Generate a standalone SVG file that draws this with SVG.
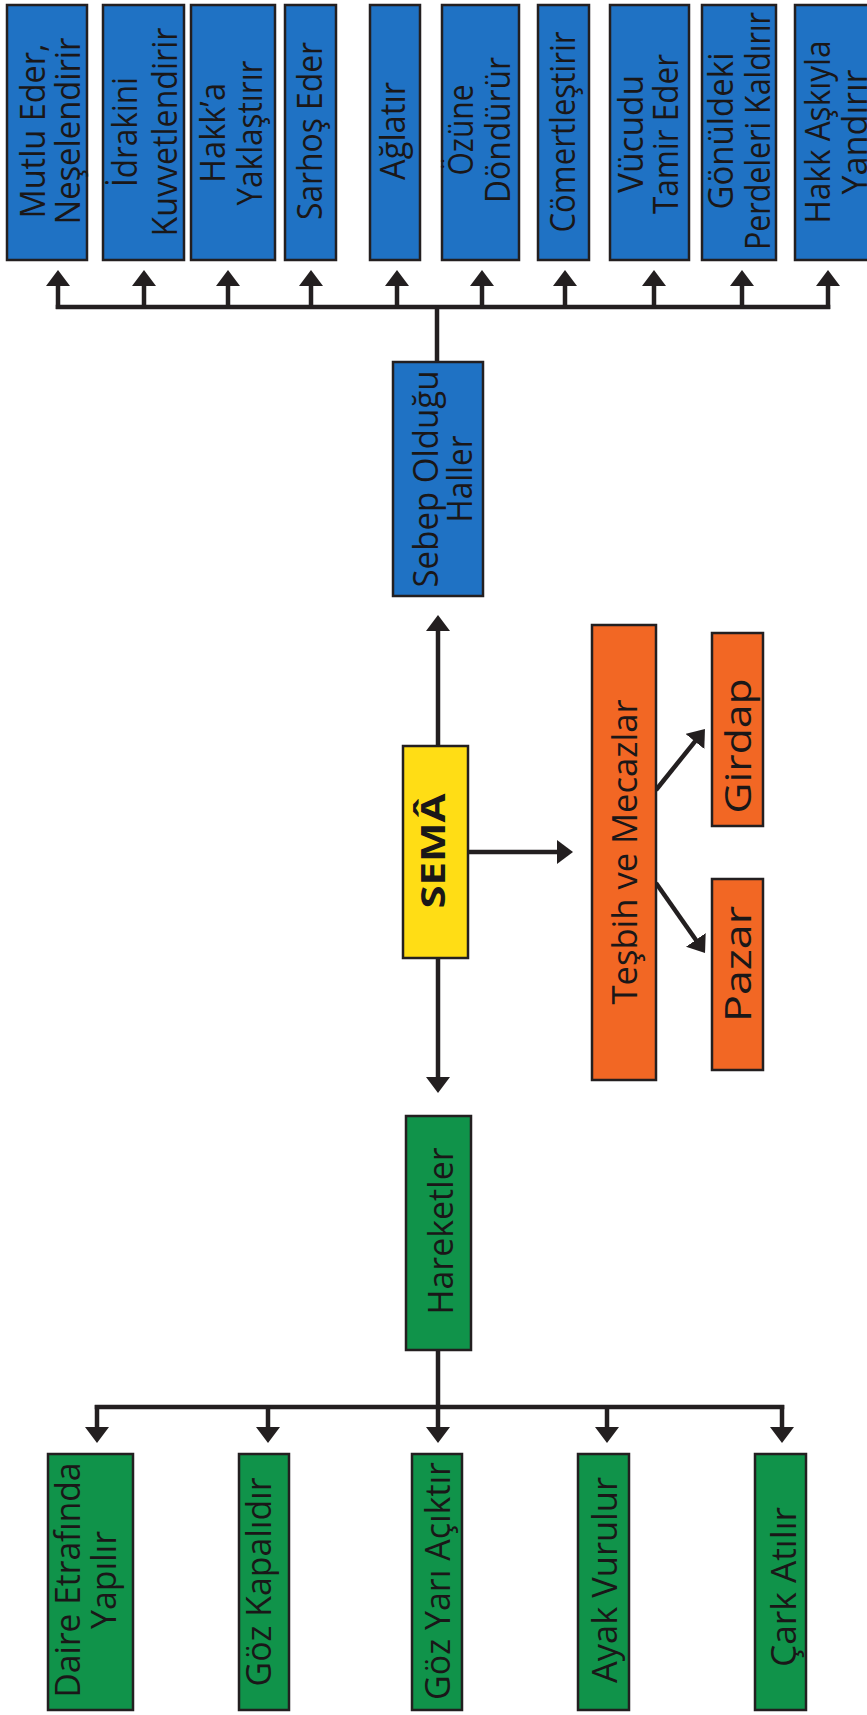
<svg xmlns="http://www.w3.org/2000/svg" width="867" height="1715" viewBox="0 0 867 1715">
  <style>
    .box { stroke: #231f20; stroke-width: 2.5; }
    .blue { fill: #1f72c4; }
    .green { fill: #10934a; }
    .orange { fill: #f26724; }
    .yellow { fill: #ffdd15; }
    .lbl { font-family: "Open Sans", "Noto Sans", sans-serif; font-size: 34px; fill: #1a1718; text-anchor: middle; }
    .big { font-size: 36px; }
    .bold { font-weight: bold; }
    .wire { fill: none; stroke: #231f20; stroke-width: 4.5; }
  </style>
  <defs>
    <marker id="arrow" markerUnits="userSpaceOnUse" viewBox="0 0 16 24" refX="6" refY="12" markerWidth="16" markerHeight="24" orient="auto">
      <path d="M0,0 L16,12 L0,24 Z" fill="#231f20"/>
    </marker>
  </defs>

  <rect width="867" height="1715" fill="#ffffff"/>

  <!-- connectors -->
  <g id="connectors" class="wire">
    <!-- upper fan: Sebep Olduğu Haller to its ten results -->
    <line x1="437" y1="362" x2="437" y2="307"/>
    <line x1="55.75" y1="307" x2="830.25" y2="307"/>
    <line x1="58" y1="309" x2="58" y2="280" marker-end="url(#arrow)"/>
    <line x1="144" y1="309" x2="144" y2="280" marker-end="url(#arrow)"/>
    <line x1="228" y1="309" x2="228" y2="280" marker-end="url(#arrow)"/>
    <line x1="311" y1="309" x2="311" y2="280" marker-end="url(#arrow)"/>
    <line x1="397" y1="309" x2="397" y2="280" marker-end="url(#arrow)"/>
    <line x1="482" y1="309" x2="482" y2="280" marker-end="url(#arrow)"/>
    <line x1="565" y1="309" x2="565" y2="280" marker-end="url(#arrow)"/>
    <line x1="654" y1="309" x2="654" y2="280" marker-end="url(#arrow)"/>
    <line x1="742" y1="309" x2="742" y2="280" marker-end="url(#arrow)"/>
    <line x1="828" y1="309" x2="828" y2="280" marker-end="url(#arrow)"/>

    <!-- SEMÂ outward -->
    <line x1="438" y1="746" x2="438" y2="625" marker-end="url(#arrow)"/>
    <line x1="438" y1="958" x2="438" y2="1083" marker-end="url(#arrow)"/>
    <line x1="468" y1="852" x2="563" y2="852" marker-end="url(#arrow)"/>

    <!-- Teşbih ve Mecazlar to its two images -->
    <line x1="656" y1="790" x2="698.7" y2="736.8" marker-end="url(#arrow)"/>
    <line x1="656" y1="883" x2="699.3" y2="944.8" marker-end="url(#arrow)"/>

    <!-- lower fan: Hareketler to its five movements -->
    <line x1="438" y1="1350" x2="438" y2="1407"/>
    <line x1="94.75" y1="1407" x2="784.25" y2="1407"/>
    <line x1="97" y1="1405" x2="97" y2="1433" marker-end="url(#arrow)"/>
    <line x1="268" y1="1405" x2="268" y2="1433" marker-end="url(#arrow)"/>
    <line x1="438" y1="1405" x2="438" y2="1433" marker-end="url(#arrow)"/>
    <line x1="607" y1="1405" x2="607" y2="1433" marker-end="url(#arrow)"/>
    <line x1="782" y1="1405" x2="782" y2="1433" marker-end="url(#arrow)"/>
  </g>

  <!-- results (blue) -->
  <g id="mutlu-eder">
    <rect class="box blue" x="7" y="5" width="80" height="255"/>
    <g transform="translate(0,131) rotate(-90)">
      <text class="lbl" y="45" textLength="175" lengthAdjust="spacingAndGlyphs">Mutlu Eder,</text>
      <text class="lbl" y="80" textLength="187" lengthAdjust="spacingAndGlyphs">Neşelendirir</text>
    </g>
  </g>
  <g id="idrakini">
    <rect class="box blue" x="103" y="5" width="81" height="255"/>
    <g transform="translate(0,132) rotate(-90)">
      <text class="lbl" y="137" textLength="110" lengthAdjust="spacingAndGlyphs">İdrakini</text>
      <text class="lbl" y="177" textLength="209" lengthAdjust="spacingAndGlyphs">Kuvvetlendirir</text>
    </g>
  </g>
  <g id="hakka">
    <rect class="box blue" x="191" y="5" width="84" height="255"/>
    <g transform="translate(0,133) rotate(-90)">
      <text class="lbl" y="225" textLength="100" lengthAdjust="spacingAndGlyphs">Hakk’a</text>
      <text class="lbl" y="262" textLength="145" lengthAdjust="spacingAndGlyphs">Yaklaştırır</text>
    </g>
  </g>
  <g id="sarhos">
    <rect class="box blue" x="285" y="5" width="51" height="255"/>
    <g transform="translate(0,131) rotate(-90)">
      <text class="lbl" y="322" textLength="178" lengthAdjust="spacingAndGlyphs">Sarhoş Eder</text>
    </g>
  </g>
  <g id="aglatir">
    <rect class="box blue" x="370" y="5" width="50" height="255"/>
    <g transform="translate(0,131) rotate(-90)">
      <text class="lbl" y="405" textLength="98" lengthAdjust="spacingAndGlyphs">Ağlatır</text>
    </g>
  </g>
  <g id="ozune">
    <rect class="box blue" x="442" y="5" width="77" height="255"/>
    <g transform="translate(0,130) rotate(-90)">
      <text class="lbl" y="473" textLength="91" lengthAdjust="spacingAndGlyphs">Özüne</text>
      <text class="lbl" y="510" textLength="146" lengthAdjust="spacingAndGlyphs">Döndürür</text>
    </g>
  </g>
  <g id="comertlestirir">
    <rect class="box blue" x="538" y="5" width="51" height="255"/>
    <g transform="translate(0,132) rotate(-90)">
      <text class="lbl" y="575" textLength="201" lengthAdjust="spacingAndGlyphs">Cömertleştirir</text>
    </g>
  </g>
  <g id="vucudu">
    <rect class="box blue" x="610" y="5" width="79" height="255"/>
    <g transform="translate(0,134) rotate(-90)">
      <text class="lbl" y="643" textLength="118" lengthAdjust="spacingAndGlyphs">Vücudu</text>
      <text class="lbl" y="678" textLength="160" lengthAdjust="spacingAndGlyphs">Tamir Eder</text>
    </g>
  </g>
  <g id="gonuldeki">
    <rect class="box blue" x="702" y="5" width="74" height="255"/>
    <g transform="translate(0,131) rotate(-90)">
      <text class="lbl" y="733" textLength="157" lengthAdjust="spacingAndGlyphs">Gönüldeki</text>
      <text class="lbl" y="770" textLength="238" lengthAdjust="spacingAndGlyphs">Perdeleri Kaldırır</text>
    </g>
  </g>
  <g id="hakk-askiyla">
    <rect class="box blue" x="795" y="5" width="82" height="255"/>
    <g transform="translate(0,132) rotate(-90)">
      <text class="lbl" y="830" textLength="183" lengthAdjust="spacingAndGlyphs">Hakk Aşkıyla</text>
      <text class="lbl" y="867" textLength="125" lengthAdjust="spacingAndGlyphs">Yandırır</text>
    </g>
  </g>

  <!-- Sebep Olduğu Haller -->
  <g id="sebep">
    <rect class="box blue" x="393" y="362" width="90" height="234"/>
    <g transform="translate(0,479) rotate(-90)">
      <text class="lbl" y="438" textLength="217" lengthAdjust="spacingAndGlyphs">Sebep Olduğu</text>
      <text class="lbl" y="472" textLength="87" lengthAdjust="spacingAndGlyphs">Haller</text>
    </g>
  </g>

  <!-- centre: SEMÂ -->
  <g id="sema">
    <rect class="box yellow" x="403" y="746" width="65" height="212"/>
    <g transform="translate(0,851) rotate(-90)">
      <text class="lbl bold" y="445" textLength="115" lengthAdjust="spacingAndGlyphs">SEMÂ</text>
    </g>
  </g>

  <!-- similes (orange) -->
  <g id="tesbih">
    <rect class="box orange" x="592" y="625" width="64" height="455"/>
    <g transform="translate(0,852) rotate(-90)">
      <text class="lbl" y="637" textLength="305" lengthAdjust="spacingAndGlyphs">Teşbih ve Mecazlar</text>
    </g>
  </g>
  <g id="girdap">
    <rect class="box orange" x="712" y="633" width="51" height="193"/>
    <g transform="translate(0,746) rotate(-90)">
      <text class="lbl big" y="751" textLength="135" lengthAdjust="spacingAndGlyphs">Girdap</text>
    </g>
  </g>
  <g id="pazar">
    <rect class="box orange" x="712" y="879" width="51" height="191"/>
    <g transform="translate(0,964) rotate(-90)">
      <text class="lbl big" y="751" textLength="116" lengthAdjust="spacingAndGlyphs">Pazar</text>
    </g>
  </g>

  <!-- movements (green) -->
  <g id="hareketler">
    <rect class="box green" x="406" y="1116" width="65" height="234"/>
    <g transform="translate(0,1231) rotate(-90)">
      <text class="lbl" y="453" textLength="167" lengthAdjust="spacingAndGlyphs">Hareketler</text>
    </g>
  </g>
  <g id="daire">
    <rect class="box green" x="48" y="1454" width="85" height="256"/>
    <g transform="translate(0,1580) rotate(-90)">
      <text class="lbl" y="80" textLength="235" lengthAdjust="spacingAndGlyphs">Daire Etrafında</text>
      <text class="lbl" y="116" textLength="98" lengthAdjust="spacingAndGlyphs">Yapılır</text>
    </g>
  </g>
  <g id="goz-kapali">
    <rect class="box green" x="239" y="1454" width="50" height="256"/>
    <g transform="translate(0,1582) rotate(-90)">
      <text class="lbl" y="271" textLength="209" lengthAdjust="spacingAndGlyphs">Göz Kapalıdır</text>
    </g>
  </g>
  <g id="goz-yari">
    <rect class="box green" x="412" y="1454" width="50" height="256"/>
    <g transform="translate(0,1581) rotate(-90)">
      <text class="lbl" y="450" textLength="238" lengthAdjust="spacingAndGlyphs">Göz Yarı Açıktır</text>
    </g>
  </g>
  <g id="ayak">
    <rect class="box green" x="578" y="1454" width="51" height="256"/>
    <g transform="translate(0,1580) rotate(-90)">
      <text class="lbl" y="617" textLength="206" lengthAdjust="spacingAndGlyphs">Ayak Vurulur</text>
    </g>
  </g>
  <g id="cark">
    <rect class="box green" x="755" y="1454" width="51" height="256"/>
    <g transform="translate(0,1587) rotate(-90)">
      <text class="lbl" y="796" textLength="160" lengthAdjust="spacingAndGlyphs">Çark Atılır</text>
    </g>
  </g>
</svg>
